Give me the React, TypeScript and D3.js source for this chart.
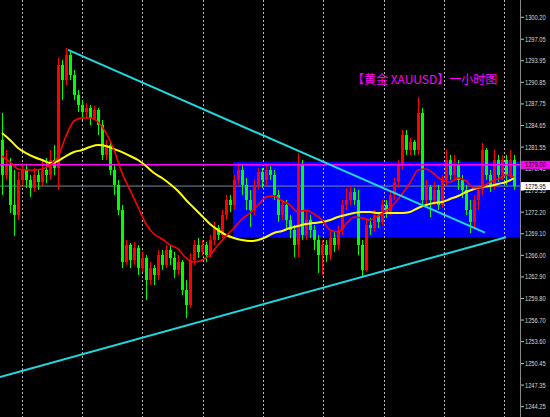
import React from "react";
import * as d3 from "d3";

const W = 550;
const H = 417;

// Candles (1H XAUUSD); open of first bar, then close/high/low per bar
const firstOpen = 1282.57;
const closes = [
  1277.55, 1278.98, 1273.24, 1271.8, 1276.83, 1278.26, 1276.83, 1275.68, 1277.55, 1276.54,
  1278.26, 1277.55, 1279.7, 1278.55, 1293.35, 1291.19, 1294.79, 1291.91, 1289.04, 1287.6,
  1286.6, 1287.17, 1285.74, 1286.88, 1284.73, 1280.42, 1281.86, 1278.26, 1276.11, 1272.52,
  1265.05, 1267.49, 1265.33, 1267.06, 1264.18, 1265.62, 1262.46, 1264.18, 1263.18, 1266.05,
  1264.62, 1266.77, 1265.62, 1263.9, 1265.05, 1261.02, 1258.87, 1265.33, 1267.49, 1266.48,
  1267.49, 1266.05, 1268.21, 1269.93, 1268.93, 1271.8, 1273.95, 1273.24, 1276.83, 1278.26,
  1276.11, 1273.95, 1272.52, 1276.11, 1277.98, 1276.83, 1278.26, 1277.55, 1274.67, 1271.8,
  1273.24, 1271.08, 1269.64, 1267.49, 1278.98, 1268.93, 1271.08, 1269.64, 1268.21, 1266.05,
  1267.49, 1266.05, 1268.49, 1267.49, 1269.64, 1273.24, 1273.95, 1275.1, 1273.95, 1267.49,
  1263.9, 1270.36, 1269.93, 1271.8, 1270.79, 1273.24, 1272.23, 1274.67, 1276.54, 1278.98,
  1283.29, 1281.14, 1282.29, 1281.14, 1286.45, 1273.95, 1275.82, 1273.95, 1275.39, 1273.24,
  1276.83, 1279.7, 1277.55, 1278.98, 1276.83, 1275.39, 1272.52, 1270.79, 1273.95, 1275.39,
  1281.14, 1277.55, 1276.11, 1279.7, 1277.55, 1279.7, 1277.55, 1279.7, 1275.95,
];
const highs = [
  1286.45, 1281.14, 1279.99, 1278.26, 1277.98, 1279.27, 1278.98, 1277.55, 1278.55, 1278.26,
  1279.7, 1279.99, 1281.14, 1281.86, 1294.36, 1294.07, 1295.79, 1295.22, 1292.63, 1289.76,
  1288.32, 1287.89, 1287.6, 1287.46, 1287.17, 1285.45, 1282.57, 1282.29, 1278.98, 1276.83,
  1273.24, 1268.21, 1267.78, 1267.92, 1267.49, 1266.48, 1266.05, 1265.05, 1264.62, 1266.77,
  1266.77, 1267.49, 1267.49, 1266.48, 1266.05, 1265.33, 1262.46, 1266.34, 1268.21, 1268.49,
  1268.21, 1267.92, 1268.93, 1270.79, 1270.36, 1272.52, 1274.67, 1274.67, 1277.55, 1279.27,
  1278.98, 1277.12, 1275.39, 1276.83, 1278.55, 1278.55, 1278.84, 1278.84, 1278.26, 1275.39,
  1273.95, 1273.95, 1271.8, 1270.36, 1280.71, 1279.7, 1272.23, 1271.8, 1270.36, 1268.93,
  1268.21, 1268.21, 1269.36, 1269.36, 1270.36, 1273.95, 1275.68, 1275.96, 1275.68, 1275.39,
  1268.21, 1271.08, 1271.37, 1272.52, 1272.23, 1273.95, 1273.95, 1275.39, 1277.12, 1279.7,
  1284.01, 1284.01, 1282.86, 1282.57, 1288.75, 1287.17, 1276.83, 1276.11, 1276.54, 1276.11,
  1277.55, 1281.14, 1280.42, 1280.42, 1279.7, 1277.55, 1276.11, 1273.95, 1274.67, 1276.11,
  1282.14, 1281.42, 1278.26, 1281.14, 1280.42, 1280.42, 1280.42, 1281.14, 1280.42,
];
const lows = [
  1274.67, 1276.83, 1272.09, 1268.78, 1271.08, 1276.11, 1275.68, 1274.39, 1275.1, 1275.39,
  1275.96, 1276.4, 1276.83, 1277.55, 1275.39, 1288.32, 1290.48, 1291.19, 1288.32, 1286.6,
  1285.45, 1285.74, 1284.73, 1285.45, 1283.29, 1279.7, 1279.7, 1277.55, 1274.67, 1271.8,
  1264.18, 1264.62, 1264.18, 1264.62, 1263.18, 1263.61, 1259.59, 1261.74, 1261.74, 1262.46,
  1263.9, 1264.18, 1264.62, 1262.75, 1263.18, 1260.3, 1257.0, 1258.44, 1264.62, 1265.62,
  1266.05, 1265.05, 1265.62, 1267.49, 1268.21, 1268.49, 1271.08, 1272.23, 1272.52, 1276.11,
  1274.67, 1272.52, 1270.08, 1271.8, 1275.39, 1275.68, 1276.11, 1276.83, 1273.95, 1270.79,
  1271.08, 1269.93, 1268.49, 1265.76, 1265.76, 1268.21, 1268.21, 1268.49, 1266.77, 1263.47,
  1263.18, 1265.05, 1265.33, 1266.48, 1266.77, 1268.93, 1272.52, 1273.24, 1273.24, 1266.05,
  1262.89, 1263.61, 1268.93, 1269.36, 1269.93, 1270.36, 1271.37, 1271.8, 1273.95, 1275.68,
  1278.26, 1280.42, 1280.42, 1280.42, 1280.42, 1273.24, 1273.24, 1271.51, 1273.24, 1272.52,
  1272.81, 1276.11, 1276.83, 1276.83, 1275.39, 1274.24, 1271.8, 1269.21, 1269.93, 1272.52,
  1274.67, 1276.83, 1275.1, 1275.39, 1276.54, 1276.83, 1276.11, 1277.12, 1275.39,
];

// Moving averages sampled every 2 bars
const maSlow = [
  1283.57, 1282.57, 1281.42, 1280.7, 1280.13, 1279.7, 1279.26, 1279.55, 1280.27, 1280.84,
  1281.13, 1281.56, 1281.85, 1281.71, 1281.28, 1280.84, 1280.27, 1279.7, 1278.84, 1277.83,
  1277.11, 1276.25, 1275.24, 1273.95, 1272.8, 1271.65, 1270.5, 1269.64, 1268.92, 1268.49,
  1268.2, 1268.06, 1268.2, 1268.63, 1269.21, 1269.5, 1269.93, 1270.21, 1270.5, 1270.65,
  1270.79, 1271.08, 1271.51, 1271.8, 1272.08, 1272.23, 1272.23, 1272.08, 1272.08, 1272.08,
  1272.08, 1272.23, 1272.8, 1273.23, 1273.52, 1273.66, 1274.09, 1274.52, 1275.1, 1275.53,
  1275.82, 1275.96, 1276.25, 1276.54, 1277.11,
];
const maFast = [
  1280.27, 1279.41, 1278.4, 1278.26, 1278.26, 1278.4, 1278.98, 1280.13, 1283.15, 1285.3,
  1285.73, 1285.73, 1285.16, 1283.58, 1281.13, 1277.83, 1275.39, 1272.94, 1270.5, 1269.06,
  1268.35, 1267.48, 1266.91, 1265.62, 1265.04, 1265.33, 1266.05, 1267.48, 1268.78, 1269.93,
  1271.22, 1272.08, 1273.23, 1274.38, 1274.52, 1273.81, 1273.23, 1272.23, 1272.51, 1271.94,
  1271.08, 1269.64, 1269.35, 1270.5, 1271.51, 1271.37, 1271.08, 1271.65, 1272.37, 1273.38,
  1274.81, 1276.39, 1278.26, 1278.4, 1277.68, 1276.82, 1276.54, 1277.11, 1276.68, 1275.67,
  1275.82, 1276.54, 1276.97, 1277.54, 1277.25,
];

const tickLabels = [
  "1300.20", "1297.05", "1293.95", "1290.85", "1287.75", "1284.65", "1281.55", "1278.45",
  "1275.35", "1272.20", "1269.10", "1266.00", "1262.90", "1259.80", "1256.70", "1253.60",
  "1250.45", "1247.35", "1244.25",
];
const gridBars = [4.93, 20, 35.08, 50.15, 65.23, 80.3, 95.38, 110.45, 125.53];
const trendDown = [[16.5, 1295.51], [120.75, 1269.26]];
const trendUp = [[-0.5, 1248.52], [126, 1268.6]];
const zone = { fromBar: 57.75, top: 1279.45, bottom: 1268.56 };
const resistance = 1279.0;
const bid = 1275.95;
const title = "【黄金 XAUUSD】一小时图";

export default function App() {
  const axisX = 520;
  const x = d3.scaleLinear().domain([0, 128]).range([2, 514]);
  const y = d3.scaleLinear().domain([1244.25, 1300.2]).range([406.7, 17.3]);

  const opens = closes.map((_, i) => (i === 0 ? firstOpen : closes[i - 1]));
  const maLine = d3
    .line<number>()
    .x((_, i) => x(i * 2))
    .y((d) => y(d))
    .curve(d3.curveMonotoneX);

  const bodyW = 3;

  return (
    <svg
      width={W}
      height={H}
      style={{ position: "absolute", left: 0, top: 0, background: "#000" }}
    >
      <rect x={0} y={0} width={W} height={H} fill="#000" />
      {/* zone */}
      <rect
        x={x(zone.fromBar)}
        y={y(zone.top)}
        width={axisX - x(zone.fromBar)}
        height={y(zone.bottom) - y(zone.top)}
        fill="#0000ff"
      />
      {/* grid */}
      {gridBars.map((g, i) => (
        <line
          key={i}
          x1={Math.round(x(g)) + 0.5}
          x2={Math.round(x(g)) + 0.5}
          y1={0}
          y2={H}
          stroke="#b8b8b8"
          strokeDasharray="2,2"
          strokeWidth={1}
        />
      ))}
      {/* horizontal lines */}
      <line x1={0} x2={axisX} y1={y(bid)} y2={y(bid)} stroke="#778899" strokeWidth={1} />
      {/* candles */}
      {closes.map((c, i) => {
        const o = opens[i];
        const up = c >= o;
        const col = up ? "#ff0000" : "#00ff00";
        const cx = Math.round(x(i));
        const top = y(Math.max(o, c));
        const bot = y(Math.min(o, c));
        return (
          <g key={i}>
            <line
              x1={cx + 0.5}
              x2={cx + 0.5}
              y1={y(highs[i])}
              y2={y(lows[i])}
              stroke={col}
              strokeWidth={1}
            />
            <rect
              x={cx - 1}
              y={top}
              width={bodyW}
              height={Math.max(1, bot - top)}
              fill={col}
            />
          </g>
        );
      })}
      <line
        x1={0}
        x2={axisX}
        y1={y(resistance)}
        y2={y(resistance)}
        stroke="#ff00ff"
        strokeWidth={1.5}
      />
      {/* moving averages */}
      <path d={maLine(maSlow) || ""} fill="none" stroke="#ffff00" strokeWidth={2} />
      <path d={maLine(maFast) || ""} fill="none" stroke="#ff0000" strokeWidth={1.6} />
      {/* trend lines */}
      <line
        x1={x(trendDown[0][0])}
        y1={y(trendDown[0][1])}
        x2={x(trendDown[1][0])}
        y2={y(trendDown[1][1])}
        stroke="#20d8e0"
        strokeWidth={2}
      />
      <line
        x1={x(trendUp[0][0])}
        y1={y(trendUp[0][1])}
        x2={x(trendUp[1][0])}
        y2={y(trendUp[1][1])}
        stroke="#20d8e0"
        strokeWidth={2}
      />
      {/* title */}
      <text
        x={352}
        y={84}
        fill="#ff00ff"
        fontSize={12}
        fontFamily="'Noto Sans CJK SC', sans-serif"
      >
        {title}
      </text>
      {/* right axis */}
      <rect x={axisX} y={0} width={W - axisX} height={H} fill="#000" />
      <line x1={axisX + 0.5} x2={axisX + 0.5} y1={0} y2={H} stroke="#8a8a8a" />
      {tickLabels.map((t, i) => (
        <g key={t}>
          <line
            x1={axisX + 1}
            x2={axisX + 4}
            y1={y(+t)}
            y2={y(+t)}
            stroke="#c0c0c0"
          />
          <text
            x={525}
            y={y(+t) + 2.5}
            fill="#d8d8d8"
            fontSize={7}
            fontFamily="'Liberation Sans', Arial, sans-serif"
            textLength={20.7}
            lengthAdjust="spacingAndGlyphs"
          >
            {t}
          </text>
        </g>
      ))}
      {/* current level labels */}
      <rect x={axisX + 1} y={y(resistance) - 4} width={29} height={8} fill="#ff00ff" />
      <text
        x={525}
        y={y(resistance) + 2.5}
        fill="#000"
        fontSize={7}
        fontFamily="'Liberation Sans', Arial, sans-serif"
        textLength={20.7}
        lengthAdjust="spacingAndGlyphs"
      >
        {resistance.toFixed(2)}
      </text>
      <rect x={axisX + 1} y={y(bid) - 4} width={29} height={8} fill="#ffffff" />
      <text
        x={525}
        y={y(bid) + 2.5}
        fill="#000"
        fontSize={7}
        fontFamily="'Liberation Sans', Arial, sans-serif"
        textLength={20.7}
        lengthAdjust="spacingAndGlyphs"
      >
        {bid.toFixed(2)}
      </text>
    </svg>
  );
}
